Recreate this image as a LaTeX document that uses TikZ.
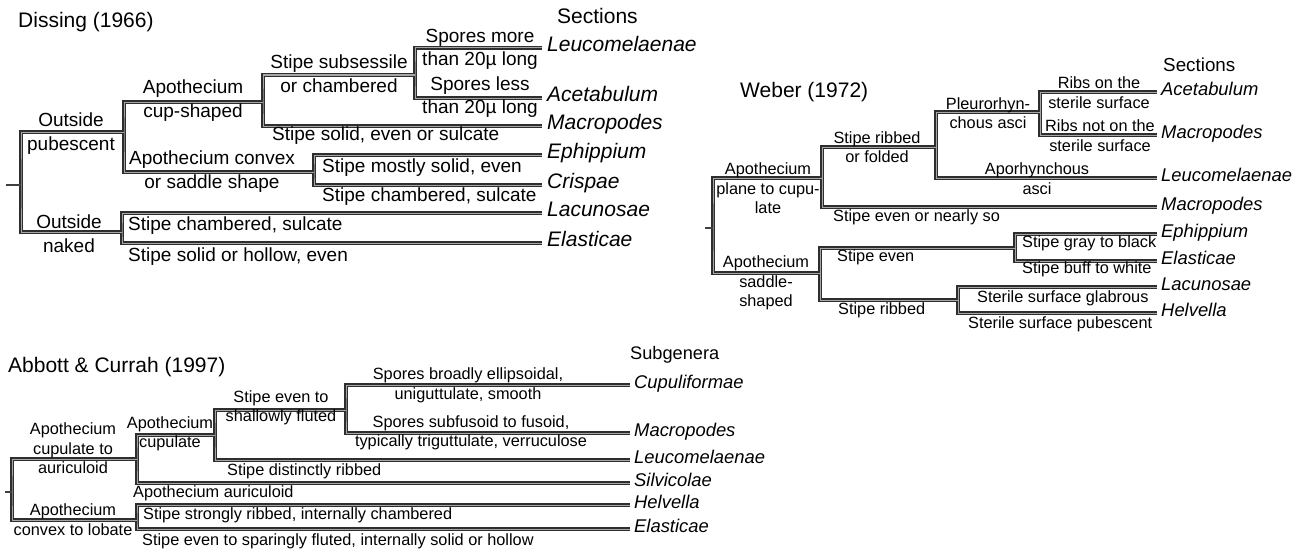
\documentclass[tikz,border=0pt]{standalone}
\usepackage{fontspec}
\setmainfont{Liberation Sans}
\usetikzlibrary{calc}

\newcommand{\bigsz}{\fontsize{21}{25}\selectfont}
\newcommand{\dlabsz}{\fontsize{19}{23.5}\selectfont}
\newcommand{\labsz}{\fontsize{16.3}{19.5}\selectfont}
\newcommand{\namesz}{\fontsize{18.4}{22}\selectfont}

\tikzset{
  br/.style={draw=black!82, line width=1.5pt, double=black!35, double distance=1pt, line join=miter},
  stub/.style={draw=black!75, line width=2.8pt},
  ttl/.style={anchor=west, inner sep=0pt, font=\bigsz},
  dlab/.style={inner sep=0pt, font=\dlabsz, align=center},
  lab/.style={inner sep=0pt, font=\labsz, align=center},
  dsect/.style={anchor=west, inner xsep=5pt, inner ysep=0pt, text height=.72em, text depth=0pt, font=\bigsz\itshape},
  sect/.style={anchor=west, inner xsep=4pt, inner ysep=0pt, text height=.72em, text depth=0pt, font=\namesz\itshape}
}

\begin{document}
\begin{tikzpicture}[x=1pt,y=-1pt]
    \useasboundingbox (0,0) rectangle (1306,551);
    % Dissing
    \node (dTitle) at (18,22) [ttl] {Dissing (1966)};
    \node (dHead) at (557,16) [ttl] {Sections};
    \node (dLeu) at (542,48) [dsect] {Leucomelaenae};
    \node (dAce) at (542,98) [dsect] {Acetabulum};
    \node (dMac) at (542,126) [dsect] {Macropodes};
    \node (dEph) at (542,155) [dsect] {Ephippium};
    \node (dCri) at (542,185) [dsect] {Crispae};
    \node (dLac) at (542,213) [dsect] {Lacunosae};
    \node (dEla) at (542,243) [dsect] {Elasticae};
    \coordinate (jSpo) at (415,75);
    \coordinate (jCup) at (263,102);
    \coordinate (jCon) at (314,172);
    \coordinate (jPub) at (124,132);
    \coordinate (jNak) at (122,232);
    \coordinate (jDroot) at (21,185);
    \coordinate (dStub) at (6,185);
    \draw[br] (dLeu.west) -| (jSpo) |- (dAce.west);
    \draw[br] (jSpo) -| (jCup) |- (dMac.west);
    \draw[br] (dEph.west) -| (jCon) |- (dCri.west);
    \draw[br] (jCup) -| (jPub) |- (jCon);
    \draw[br] (dLac.west) -| (jNak) |- (dEla.west);
    \draw[br] (jPub) -| (jDroot) |- (jNak);
    \draw[stub] (dStub) -- (jDroot);
    \node (dOut1) at (71,133.5) [dlab] {Outside\\pubescent};
    \node (dOut2) at (69,233.5) [dlab] {Outside\\naked};
    \node (dApo1) at (193,100.5) [dlab] {Apothecium\\cup-shaped};
    \node (dApo2) at (212,171.5) [dlab] {Apothecium convex\\or saddle shape};
    \node (dSub) at (339,73.5) [dlab] {Stipe subsessile\\or chambered};
    \node (dSol) at (272,136) [dlab, anchor=west] {Stipe solid, even or sulcate};
    \node (dMore) at (480,49.5) [dlab] {Spores more\\than 20µ long};
    \node (dLess) at (480,97) [dlab] {Spores less\\than 20µ long};
    \node (dMost) at (322,168) [dlab, anchor=west] {Stipe mostly solid, even};
    \node (dCha1) at (322,197) [dlab, anchor=west] {Stipe chambered, sulcate};
    \node (dCha2) at (128,226) [dlab, anchor=west] {Stipe chambered, sulcate};
    \node (dHol) at (128,257) [dlab, anchor=west] {Stipe solid or hollow, even};

    % Weber
    \node (wTitle) at (740,92) [ttl] {Weber (1972)};
    \node (wHead) at (1163,65) [ttl, font=\fontsize{18.8}{22}\selectfont] {Sections};
    \node (wAce) at (1157,92) [sect] {Acetabulum};
    \node (wMac) at (1157,135) [sect] {Macropodes};
    \node (wLeu) at (1157,178) [sect] {Leucomelaenae};
    \node (wMac2) at (1157,207) [sect] {Macropodes};
    \node (wEph) at (1157,234) [sect] {Ephippium};
    \node (wEla) at (1157,261) [sect] {Elasticae};
    \node (wLac) at (1157,287) [sect] {Lacunosae};
    \node (wHel) at (1157,313) [sect] {Helvella};
    \coordinate (jRib) at (1040,112);
    \coordinate (jPle) at (936,147);
    \coordinate (jFol) at (822,178);
    \coordinate (jGray) at (1015,248);
    \coordinate (jSter) at (958,300);
    \coordinate (jSad) at (820,273);
    \coordinate (jWroot) at (713,228);
    \coordinate (wStub) at (705,228);
    \draw[br] (wAce.west) -| (jRib) |- (wMac.west);
    \draw[br] (jRib) -| (jPle) |- (wLeu.west);
    \draw[br] (jPle) -| (jFol) |- (wMac2.west);
    \draw[br] (wEph.west) -| (jGray) |- (wEla.west);
    \draw[br] (wLac.west) -| (jSter) |- (wHel.west);
    \draw[br] (jGray) -| (jSad) |- (jSter);
    \draw[br] (jFol) -| (jWroot) |- (jSad);
    \draw[stub] (wStub) -- (jWroot);
    \node (wApo1) at (768,188.5) [lab] {Apothecium\\plane to cupu-\\late};
    \node (wApo2) at (766,283) [lab] {Apothecium\\saddle-\\shaped};
    \node (wRib) at (877,147) [lab] {Stipe ribbed\\or folded};
    \node (wEven) at (833,217) [lab, anchor=west] {Stipe even or nearly so};
    \node (wPle) at (988,113) [lab] {Pleurorhyn-\\chous asci};
    \node (wApor) at (1037,178.5) [lab] {Aporhynchous\\asci};
    \node (wOn) at (1099,92.5) [lab] {Ribs on the\\sterile surface};
    \node (wNot) at (1100,135.5) [lab] {Ribs not on the\\sterile surface};
    \node (wSEv) at (837,257) [lab, anchor=west] {Stipe even};
    \node (wGray) at (1022,243) [lab, anchor=west] {Stipe gray to black};
    \node (wBuff) at (1022,269) [lab, anchor=west] {Stipe buff to white};
    \node (wSRib) at (838,310) [lab, anchor=west] {Stipe ribbed};
    \node (wGlab) at (977,298) [lab, anchor=west] {Sterile surface glabrous};
    \node (wPub) at (968,324) [lab, anchor=west] {Sterile surface pubescent};

    % Abbott & Currah
    \node (aTitle) at (8,367) [ttl] {Abbott \& Currah (1997)};
    \node (aHead) at (630,355) [ttl, font=\fontsize{18.2}{22}\selectfont] {Subgenera};
    \node (aCup) at (630,385) [sect] {Cupuliformae};
    \node (aMac) at (630,433) [sect] {Macropodes};
    \node (aLeu) at (630,460) [sect] {Leucomelaenae};
    \node (aSil) at (630,483) [sect] {Silvicolae};
    \node (aHel) at (630,505) [sect] {Helvella};
    \node (aEla) at (630,529) [sect] {Elasticae};
    \coordinate (jSpor) at (346,410);
    \coordinate (jShal) at (215,435);
    \coordinate (jCupu) at (137,459);
    \coordinate (jLob) at (137,520);
    \coordinate (jAroot) at (12,492);
    \coordinate (aStub) at (5,492);
    \draw[br] (aCup.west) -| (jSpor) |- (aMac.west);
    \draw[br] (jSpor) -| (jShal) |- (aLeu.west);
    \draw[br] (jShal) -| (jCupu) |- (aSil.west);
    \draw[br] (aHel.west) -| (jLob) |- (aEla.west);
    \draw[br] (jCupu) -| (jAroot) |- (jLob);
    \draw[stub] (aStub) -- (jAroot);
    \node (aApo1) at (73,448.5) [lab] {Apothecium\\cupulate to\\auriculoid};
    \node (aApo2) at (73,519.5) [lab] {Apothecium\\convex to lobate};
    \node (aApo3) at (170,434) [lab] {Apothecium\\cupulate};
    \node (aShal) at (281,408) [lab] {Stipe even to\\shallowly fluted};
    \node (aDist) at (227,471) [lab, anchor=west] {Stipe distinctly ribbed};
    \node (aAur) at (133,493) [lab, anchor=west] {Apothecium auriculoid};
    \node (aStr) at (143,515) [lab, anchor=west] {Stipe strongly ribbed, internally chambered};
    \node (aSpa) at (142,541) [lab, anchor=west] {Stipe even to sparingly fluted, internally solid or hollow};
    \node (aBro) at (468,385.5) [lab] {Spores broadly ellipsoidal,\\uniguttulate, smooth};
    \node (aFus) at (471,433) [lab] {Spores subfusoid to fusoid,\\typically triguttulate, verruculose};
\end{tikzpicture}
\end{document}
